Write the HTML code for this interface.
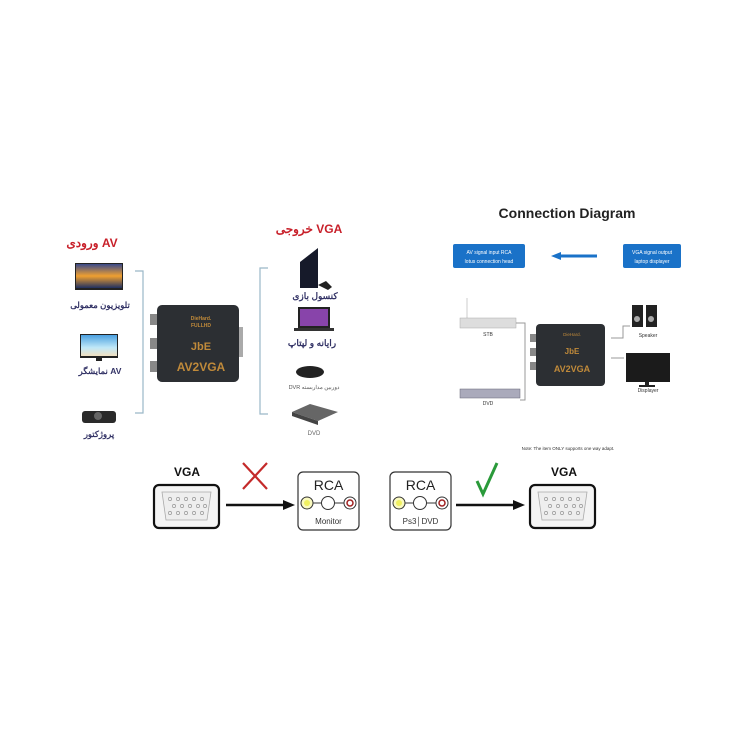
<!DOCTYPE html>
<html><head><meta charset="utf-8"><style>
html,body{margin:0;padding:0;background:#fff;}
svg{display:block;}
text{font-family:"Liberation Sans","Noto Sans CJK SC",sans-serif;}
</style></head><body>
<svg width="750" height="750" viewBox="0 0 750 750" xmlns="http://www.w3.org/2000/svg">
<rect width="750" height="750" fill="#fff"/>
<!-- LEFT -->
<text x="92" y="247" font-size="12" font-weight="bold" fill="#c8202a" text-anchor="middle" font-family="DejaVu Sans,sans-serif">ورودی AV</text>
<text x="309" y="233" font-size="12" font-weight="bold" fill="#c8202a" text-anchor="middle" font-family="DejaVu Sans,sans-serif">خروجی VGA</text>
<defs><linearGradient id="sun" x1="0" y1="0" x2="0" y2="1"><stop offset="0" stop-color="#3a4a8a"/><stop offset=".5" stop-color="#f0a030"/><stop offset="1" stop-color="#203060"/></linearGradient>
<linearGradient id="sea" x1="0" y1="0" x2="0" y2="1"><stop offset="0" stop-color="#4aa0e0"/><stop offset=".6" stop-color="#c0e8f8"/><stop offset="1" stop-color="#f0e0c0"/></linearGradient></defs>
<rect x="75" y="263" width="48" height="27" fill="#222"/><rect x="76" y="264" width="46" height="24" fill="url(#sun)"/>
<text x="100" y="308" font-size="8.5" font-weight="bold" fill="#333366" text-anchor="middle" font-family="DejaVu Sans,sans-serif">تلویزیون معمولی</text>
<rect x="80" y="334" width="38" height="24" fill="#222"/><rect x="81" y="335" width="36" height="21" fill="url(#sea)"/><rect x="96" y="358" width="6" height="3" fill="#222"/>
<text x="100" y="374" font-size="8.5" font-weight="bold" fill="#333366" text-anchor="middle" font-family="DejaVu Sans,sans-serif">نمایشگر AV</text>
<rect x="82" y="411" width="34" height="12" rx="3" fill="#2a2a2a"/><circle cx="98" cy="416" r="4" fill="#666"/>
<text x="99" y="437" font-size="8.5" font-weight="bold" fill="#333366" text-anchor="middle" font-family="DejaVu Sans,sans-serif">پروژکتور</text>
<path d="M135 271H143V413H135" fill="none" stroke="#9ab8c8" stroke-width="1.2"/>
<path d="M268 268H260V414H268" fill="none" stroke="#9ab8c8" stroke-width="1.2"/>
<g>
<rect x="150" y="314" width="8" height="11" fill="#888"/><rect x="150" y="338" width="8" height="11" fill="#888"/><rect x="150" y="361" width="8" height="11" fill="#888"/>
<rect x="157" y="305" width="82" height="77" rx="5" fill="#2c2f33"/>
<rect x="239" y="327" width="4" height="30" fill="#aaa"/>
<text x="201" y="320" font-size="5" fill="#c08a3a" text-anchor="middle" font-weight="bold">DieHard.</text>
<text x="201" y="327" font-size="5" fill="#c08a3a" text-anchor="middle" font-weight="bold">FULLHD</text>
<text x="201" y="350" font-size="11" fill="#c08a3a" text-anchor="middle" font-family="Liberation Serif,serif" font-weight="bold">JbE</text>
<text x="201" y="371" font-size="12" fill="#c08a3a" text-anchor="middle" font-weight="bold">AV2VGA</text>
</g>
<path d="M300 262L318 248V288H300Z" fill="#161a2a"/><path d="M318 285l8-4 6 6-4 3z" fill="#222"/>
<text x="315" y="299" font-size="9" font-weight="bold" fill="#333366" text-anchor="middle" font-family="DejaVu Sans,sans-serif">کنسول بازی</text>
<rect x="298" y="307" width="32" height="21" fill="#222"/><rect x="300" y="309" width="28" height="17" fill="#8844aa"/><rect x="294" y="328" width="40" height="3" fill="#333"/>
<text x="312" y="346" font-size="9" font-weight="bold" fill="#333366" text-anchor="middle" font-family="DejaVu Sans,sans-serif">رایانه و لپتاپ</text>
<ellipse cx="310" cy="372" rx="14" ry="6" fill="#222"/>
<text x="314" y="389" font-size="5.5" fill="#555" text-anchor="middle" font-family="DejaVu Sans,sans-serif">DVR دوربین مداربسته</text>
<path d="M292 412L310 404L338 412L318 421Z" fill="#666"/><path d="M292 412L318 421V425L292 416Z" fill="#444"/>
<text x="314" y="435" font-size="6" fill="#666" text-anchor="middle">DVD</text>
<!-- RIGHT -->
<text x="567" y="218" font-size="14" font-weight="bold" fill="#222" text-anchor="middle">Connection Diagram</text>
<rect x="453" y="244" width="72" height="24" rx="2" fill="#1a72c8"/>
<text x="489" y="254" font-size="5" fill="#fff" text-anchor="middle">AV signal input RCA</text>
<text x="489" y="263" font-size="5" fill="#fff" text-anchor="middle">lotus connection head</text>
<rect x="623" y="244" width="58" height="24" rx="2" fill="#1a72c8"/>
<text x="652" y="254" font-size="5" fill="#fff" text-anchor="middle">VGA signal output</text>
<text x="652" y="263" font-size="5" fill="#fff" text-anchor="middle">laptop displayer</text>
<line x1="597" y1="256" x2="560" y2="256" stroke="#1a72c8" stroke-width="3"/><path d="M551 256l10-4v8z" fill="#1a72c8"/>
<line x1="467" y1="298" x2="467" y2="318" stroke="#ccc"/>
<rect x="460" y="318" width="56" height="10" fill="#ddd" stroke="#aaa" stroke-width=".5"/>
<text x="488" y="405" font-size="5" fill="#333" text-anchor="middle">DVD</text>
<text x="488" y="336" font-size="5" fill="#333" text-anchor="middle">STB</text>
<rect x="460" y="389" width="60" height="9" fill="#aab" stroke="#667" stroke-width=".5"/>
<path d="M516 323H525V400H520" fill="none" stroke="#999" stroke-width="1"/>
<rect x="530" y="334" width="6" height="8" fill="#888"/><rect x="530" y="348" width="6" height="8" fill="#888"/><rect x="530" y="362" width="6" height="8" fill="#888"/>
<rect x="536" y="324" width="69" height="62" rx="4" fill="#2c2f33"/>
<text x="572" y="336" font-size="4.5" fill="#c08a3a" text-anchor="middle">DieHard.</text>
<text x="572" y="354" font-size="8" fill="#c08a3a" text-anchor="middle" font-weight="bold">JbE</text>
<text x="572" y="372" font-size="9" fill="#c08a3a" text-anchor="middle" font-weight="bold">AV2VGA</text>
<path d="M611 338H623V326H630" fill="none" stroke="#999"/>
<line x1="611" y1="358" x2="624" y2="358" stroke="#999"/>
<rect x="632" y="305" width="11" height="22" fill="#222"/><rect x="646" y="305" width="11" height="22" fill="#222"/>
<circle cx="637" cy="319" r="3" fill="#aaa"/><circle cx="651" cy="319" r="3" fill="#aaa"/>
<text x="648" y="337" font-size="5" fill="#333" text-anchor="middle">Speaker</text>
<rect x="626" y="353" width="44" height="29" fill="#1b1b1b"/><rect x="645" y="382" width="4" height="4" fill="#222"/><rect x="639" y="385" width="16" height="2" fill="#222"/>
<text x="648" y="392" font-size="5" fill="#333" text-anchor="middle">Displayer</text>
<text x="568" y="450" font-size="4.5" fill="#333" text-anchor="middle">Note: The item ONLY supports one way adapt.</text>
<!-- BOTTOM -->
<text x="187" y="476" font-size="12" font-weight="bold" fill="#111" text-anchor="middle">VGA</text>
<text x="564" y="476" font-size="12" font-weight="bold" fill="#111" text-anchor="middle">VGA</text>
<g id="vga">
<rect x="154" y="485" width="65" height="43" rx="5" fill="#f4f4f4" stroke="#111" stroke-width="2.2"/>
<path d="M162 492H211L207 520H166Z" fill="#eee" stroke="#aaa" stroke-width=".8"/>
<g fill="none" stroke="#999" stroke-width=".7">
<circle cx="170" cy="499" r="1.6"/><circle cx="178" cy="499" r="1.6"/><circle cx="186" cy="499" r="1.6"/><circle cx="194" cy="499" r="1.6"/><circle cx="202" cy="499" r="1.6"/>
<circle cx="174" cy="506" r="1.6"/><circle cx="182" cy="506" r="1.6"/><circle cx="190" cy="506" r="1.6"/><circle cx="198" cy="506" r="1.6"/><circle cx="205" cy="506" r="1.6"/>
<circle cx="170" cy="513" r="1.6"/><circle cx="178" cy="513" r="1.6"/><circle cx="186" cy="513" r="1.6"/><circle cx="194" cy="513" r="1.6"/><circle cx="202" cy="513" r="1.6"/>
</g></g>
<use href="#vga" x="376" y="0"/>
<line x1="226" y1="505" x2="285" y2="505" stroke="#111" stroke-width="2.5"/><path d="M295 505l-12-5v10z" fill="#111"/>
<line x1="456" y1="505" x2="515" y2="505" stroke="#111" stroke-width="2.5"/><path d="M525 505l-12-5v10z" fill="#111"/>
<path d="M243 463L267 489M267 463L243 489" stroke="#c42a2a" stroke-width="2.2"/>
<path d="M477 481L483 494L497 463" fill="none" stroke="#2a9a3a" stroke-width="3"/>
<g id="rca">
<rect x="298" y="472" width="61" height="58" rx="5" fill="#fff" stroke="#333" stroke-width="1.2"/>
<text x="328.5" y="490" font-size="14" fill="#222" text-anchor="middle">RCA</text>
<line x1="307" y1="503" x2="350" y2="503" stroke="#333"/>
<circle cx="307" cy="503" r="6" fill="#fafac0" stroke="#333"/><circle cx="307" cy="503" r="3" fill="#f0f060"/>
<circle cx="328" cy="503" r="6.5" fill="#fff" stroke="#333"/>
<circle cx="350" cy="503" r="6" fill="#fff" stroke="#333"/><circle cx="350" cy="503" r="3" fill="none" stroke="#a02020" stroke-width="1.5"/>
</g>
<text x="328.5" y="524" font-size="8" fill="#333" text-anchor="middle">Monitor</text>
<use href="#rca" x="92" y="0"/>
<text x="420.5" y="524" font-size="8" fill="#333" text-anchor="middle">Ps3│DVD</text>
</svg>
</body></html>
